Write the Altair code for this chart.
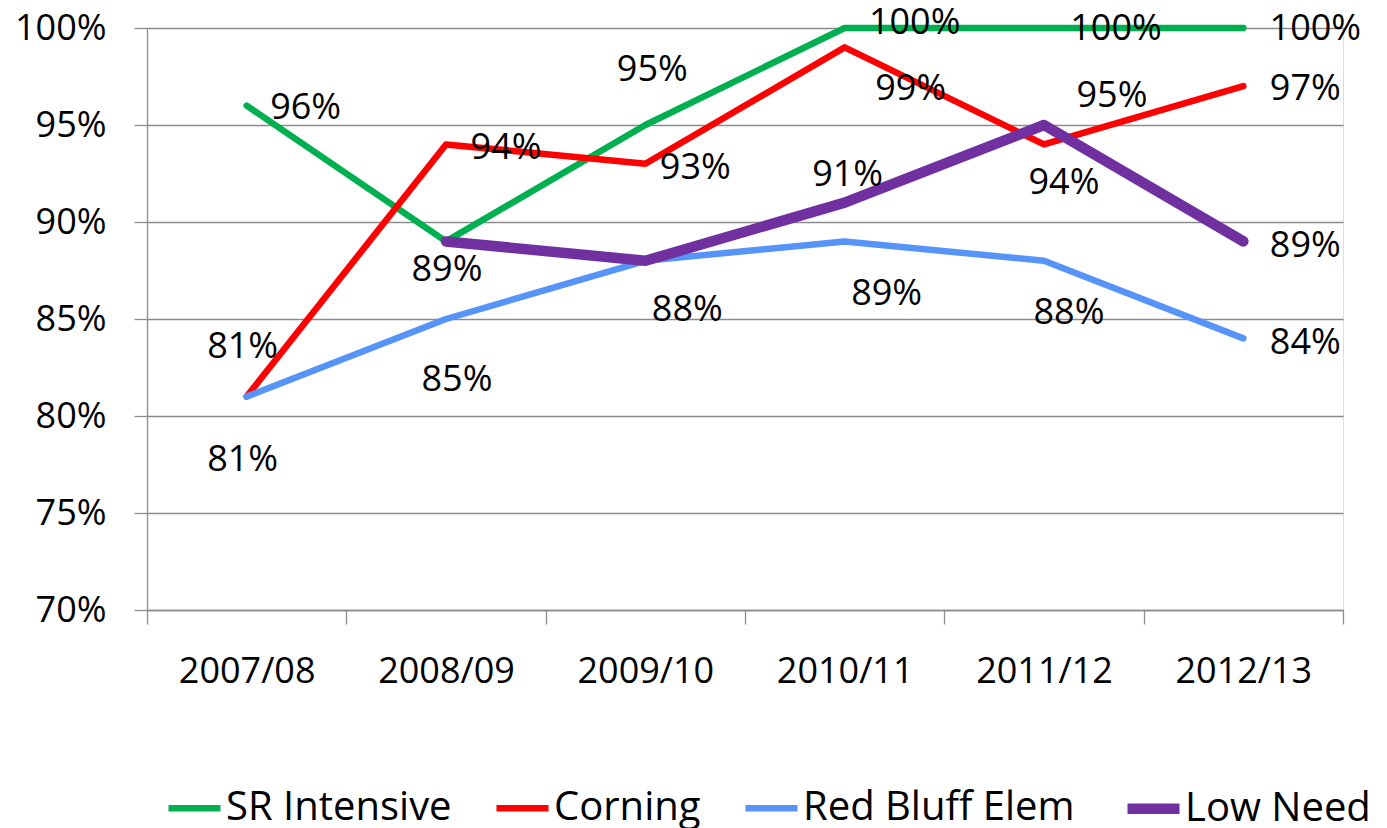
import altair as alt
import pandas as pd

# ---- data ----
years = ["2007/08", "2008/09", "2009/10", "2010/11", "2011/12", "2012/13"]
series_names = ["SR Intensive", "Corning", "Red Bluff Elem", "Low Need"]
sr_intensive = [96, 89, 95, 100, 100, 100]
corning = [81, 94, 93, 99, 94, 97]
red_bluff = [81, 85, 88, 89, 88, 84]
low_need = [None, 89, 88, 91, 95, 89]
y_ticks = [0.70, 0.75, 0.80, 0.85, 0.90, 0.95, 1.00]

# ---- styling ----
colors = ["#00B050", "#FF0000", "#5794FA", "#7030A0"]
widths = [6.5, 6.5, 6.5, 10.5]
FONT = "Open Sans"

# label offsets (pixels, relative to the data point), None = label hidden
label_offsets = {
    "SR Intensive": [(59, 2), (1, 29), (7, -55), (70, -5), (72, 1), (72, 1)],
    "Corning": [(-4, -50), (60, 4), (50, 4), (66, 42), (20, 39), (62, 3)],
    "Red Bluff Elem": [(-4, 63), (11, 61), (42, 49), (42, 53), (25, 52), (62, 5)],
    "Low Need": [None, None, None, (3, -28), (68, -29), (62, 5)],
}

all_values = [sr_intensive, corning, red_bluff, low_need]
rows = []
for name, vals in zip(series_names, all_values):
    for yr, v in zip(years, vals):
        if v is not None:
            rows.append({"series": name, "year": yr, "value": v / 100.0,
                         "label": f"{v}%"})
df = pd.DataFrame(rows)

x_enc = alt.X("year:N", sort=years,
              scale=alt.Scale(domain=years, paddingInner=0, paddingOuter=0),
              axis=alt.Axis(title=None, tickBand="extent", tickSize=14,
                            labelPadding=30, labelFont=FONT, labelFontSize=36,
                            labelColor="black", grid=False, domainColor="#8C8C8C",
                            tickColor="#8C8C8C", domainWidth=1.3, tickWidth=1.3,
                            labelAngle=0))
y_enc = alt.Y("value:Q",
              scale=alt.Scale(domain=[0.70, 1.00], nice=False, zero=False),
              axis=alt.Axis(title=None, values=y_ticks, format=".0%",
                            tickSize=13, labelPadding=28, labelFont=FONT,
                            labelFontSize=36, labelColor="black", grid=True,
                            gridColor="#8C8C8C", gridWidth=1.3,
                            domainColor="#8C8C8C", tickColor="#8C8C8C",
                            domainWidth=1.3, tickWidth=1.3))

leg = alt.Legend(orient="none", legendX=16, legendY=749, direction="horizontal",
                 columns=4, title=None, symbolType="stroke", symbolSize=2704,
                 labelFont=FONT, labelFontSize=40, labelColor="black",
                 labelOffset=0, columnPadding=31, padding=0, labelLimit=500)

lines = alt.Chart(df).mark_line(strokeCap="round", strokeJoin="round").encode(
    x=x_enc,
    y=y_enc,
    color=alt.Color("series:N", sort=series_names,
                    scale=alt.Scale(domain=series_names, range=colors), legend=leg),
    strokeWidth=alt.StrokeWidth("series:N", sort=series_names,
                                scale=alt.Scale(type="ordinal", domain=series_names,
                                                range=widths),
                                legend=leg),
)

layers = [lines]
for name, vals in zip(series_names, all_values):
    for i, (yr, v) in enumerate(zip(years, vals)):
        off = label_offsets[name][i]
        if v is None or off is None:
            continue
        sub = df[(df.series == name) & (df.year == yr)]
        layers.append(
            alt.Chart(sub).mark_text(dx=off[0], dy=off[1], font=FONT, fontSize=36,
                                     color="black", align="center",
                                     baseline="middle").encode(
                x=alt.X("year:N", sort=years),
                y=alt.Y("value:Q"),
                text="label:N",
            )
        )

chart = alt.layer(*layers).properties(
    width=1196, height=582,
    autosize=alt.AutoSizeParams(type="none"),
    padding={"left": 139, "top": 20, "right": 36, "bottom": 218},
).configure_view(stroke=None).configure(background="white")

chart.save("out.html", embed_options={"renderer": "svg", "actions": False})
